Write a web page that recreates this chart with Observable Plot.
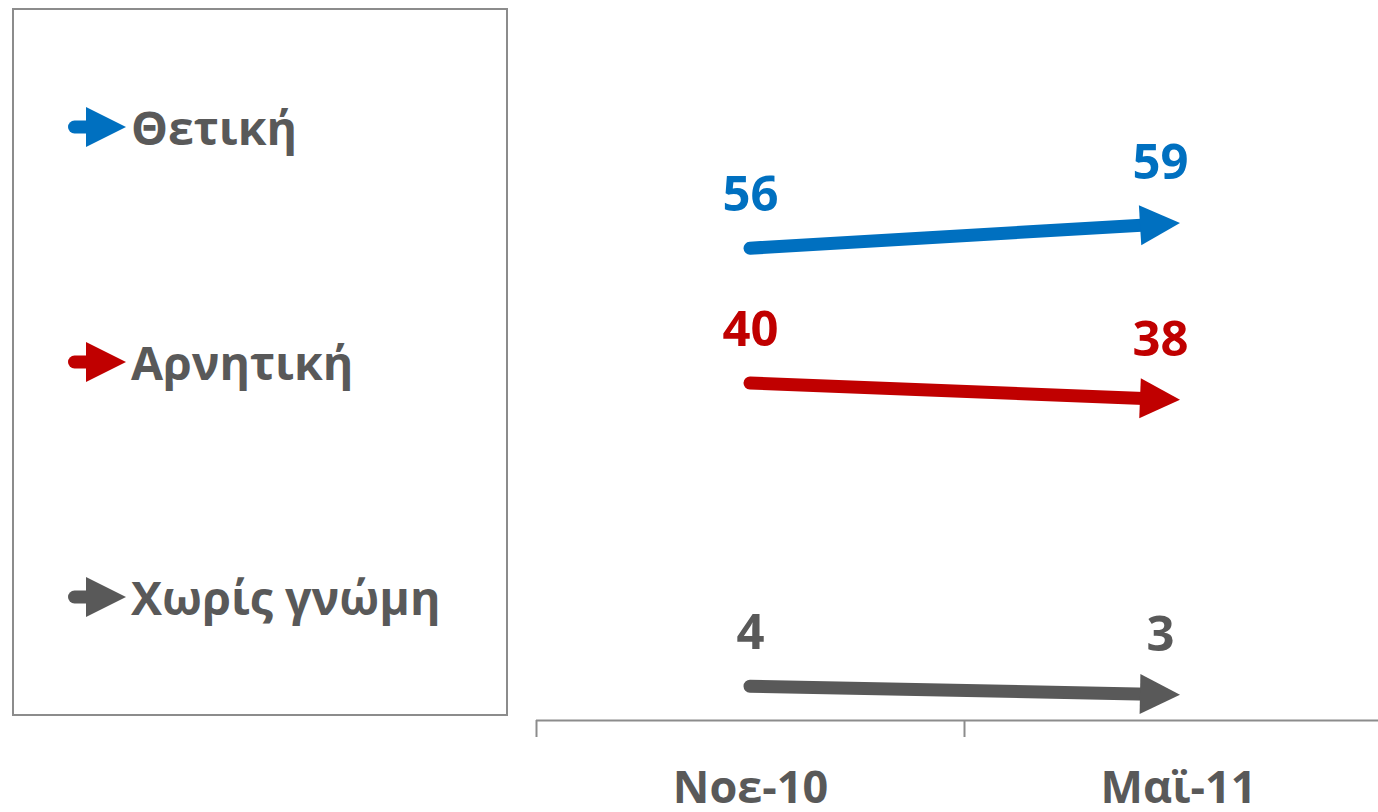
<!DOCTYPE html>
<html>
<head>
<meta charset="utf-8">
<script src="https://cdn.jsdelivr.net/npm/d3@7"></script>
<script src="https://cdn.jsdelivr.net/npm/@observablehq/plot@0.6"></script>
<style>
  html, body { margin: 0; padding: 0; background: #fff; }
  #wrap { position: relative; width: 1378px; height: 812px; overflow: hidden; font-family: "Open Sans", sans-serif; }
  #legend { position: absolute; left: 12px; top: 8px; width: 492px; height: 704px; border: 2px solid #8c8c8c; box-sizing: content-box; }
  .item { position: absolute; left: 54px; display: flex; align-items: center; height: 40px; }
  .item span { font-weight: 700; font-size: 46.5px; color: #595959; margin-left: 3px; line-height: 40px; white-space: nowrap; }
</style>
</head>
<body>
<div id="wrap"><div id="chart"></div><div id="legend"></div></div>
<script>
// ---- data ----
const periods = ["Νοε-10", "Μαϊ-11"];
const series = ["Θετική", "Αρνητική", "Χωρίς γνώμη"];
const nov10 = [56, 40, 4];
const may11 = [59, 38, 3];
const colors = ["#0070C0", "#C00000", "#595959"];

// long table
const points = [];
series.forEach((s, i) => {
  points.push({series: s, period: periods[0], value: nov10[i]});
  points.push({series: s, period: periods[1], value: may11[i]});
});
const arrows = series.map((s, i) => ({series: s, from: nov10[i], to: may11[i]}));
const pos = p => periods.indexOf(p) + 0.5;
const colorOf = s => colors[series.indexOf(s)];

// arrow mark drawn through Plot's scales
function arrowMark(index, scales) {
  const g = d3.create("svg:g");
  arrows.forEach(a => {
    const x1 = scales.x(pos(periods[0])), y1 = scales.y(a.from);
    const x2 = scales.x(pos(periods[1])) + 2, y2 = scales.y(a.to);
    const dx = x2 - x1, dy = y2 - y1, len = Math.hypot(dx, dy);
    const ux = dx / len, uy = dy / len;
    const hl = 40, hw = 20;
    const c = colorOf(a.series);
    g.append("line")
      .attr("x1", x1).attr("y1", y1)
      .attr("x2", x2 - ux * 30).attr("y2", y2 - uy * 30)
      .attr("stroke", c).attr("stroke-width", 13).attr("stroke-linecap", "round");
    const bx = x2 - ux * hl, by = y2 - uy * hl;
    g.append("polygon")
      .attr("points", [[x2, y2], [bx - uy * hw, by + ux * hw], [bx + uy * hw, by - ux * hw]].map(p => p.join(",")).join(" "))
      .attr("fill", c);
  });
  return g.node();
}

const chart = Plot.plot({
  width: 1378,
  height: 812,
  marginLeft: 536,
  marginRight: 0,
  marginTop: 46,
  marginBottom: 92,
  style: {fontFamily: "Open Sans, sans-serif", background: "transparent"},
  x: {domain: [0, 2], range: [536, 1392], axis: null},
  y: {domain: [0, 80], range: [720, 46], axis: null},
  marks: [
    Plot.ruleY([0], {stroke: "#8c8c8c", strokeWidth: 2}),
    Plot.axisX({ticks: [0, 1, 2], tickSize: 17, tickFormat: () => "", stroke: "#8c8c8c", strokeWidth: 2}),
    Plot.text(periods, {x: d => pos(d), y: () => 0, text: d => d, dy: 68, fontSize: 45, fontWeight: 700, fill: "#595959", lineAnchor: "middle"}),
    arrowMark,
    Plot.text(points.filter(d => d.period === periods[0]), {
      x: d => pos(d.period), y: "value", text: d => String(d.value),
      fill: d => colorOf(d.series), dy: -53, fontSize: 49, fontWeight: 700, lineAnchor: "middle"
    }),
    Plot.text(points.filter(d => d.period === periods[1]), {
      x: d => pos(d.period), y: "value", text: d => String(d.value),
      fill: d => colorOf(d.series), dx: -18, dy: -60, fontSize: 49, fontWeight: 700, lineAnchor: "middle"
    })
  ]
});
document.getElementById("chart").appendChild(chart);

// legend
const legendTops = [97, 332, 567];
const legend = document.getElementById("legend");
series.forEach((s, i) => {
  const item = document.createElement("div");
  item.className = "item";
  item.style.top = legendTops[i] + "px";
  const c = colors[i];
  item.innerHTML = `<svg width="60" height="40" viewBox="0 0 60 40"><line x1="6.5" y1="20" x2="24" y2="20" stroke="${c}" stroke-width="13" stroke-linecap="round"/><polygon points="18,0 58,20 18,40" fill="${c}"/></svg><span>${s}</span>`;
  legend.appendChild(item);
});
</script>
</body>
</html>
